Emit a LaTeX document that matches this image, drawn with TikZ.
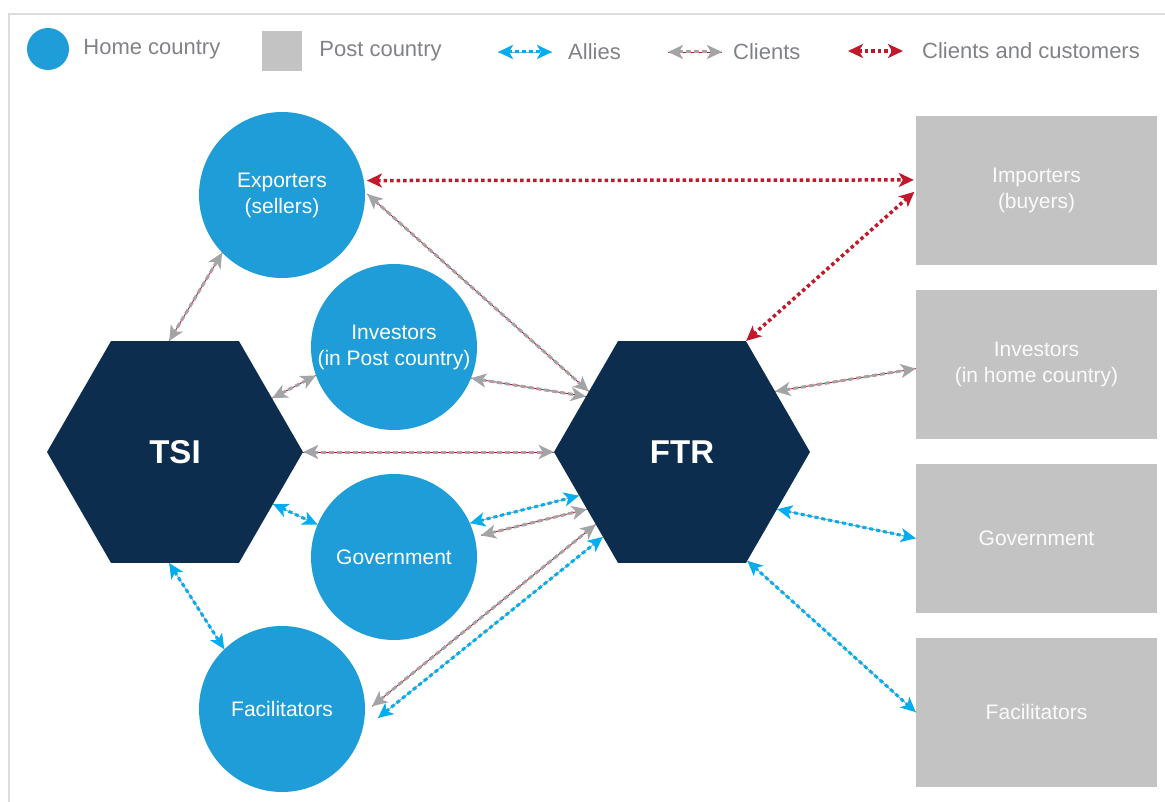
\documentclass[tikz,border=0pt]{standalone}
\usepackage{fontspec}
\setmainfont{Liberation Sans}
\usetikzlibrary{arrows.meta, shapes.geometric, positioning}
\definecolor{HomeBlue}{HTML}{1E9DD8}
\definecolor{PostGray}{HTML}{C2C3C2}
\definecolor{HexNavy}{HTML}{0C2D4E}
\definecolor{AllyBlue}{HTML}{00AEEF}
\definecolor{ClientGray}{HTML}{A3A4A6}
\definecolor{CustRed}{HTML}{C1182B}
\definecolor{LegendText}{HTML}{808285}
\definecolor{FrameGray}{HTML}{DCDDDE}

\begin{document}
\begin{tikzpicture}[x=1pt,y=-1pt,
    >={Stealth[length=15pt,width=14pt,inset=4pt]},
    home/.style={circle,fill=HomeBlue,text=white,minimum size=166pt,inner sep=0pt,align=center,font=\fontsize{21}{26}\selectfont},
    post/.style={rectangle,fill=PostGray,text=white!94!PostGray,minimum width=241pt,minimum height=149pt,inner sep=0pt,align=center,font=\fontsize{21}{26}\selectfont},
    hexa/.style={regular polygon,regular polygon sides=6,fill=HexNavy,text=white,minimum size=256pt,inner sep=0pt,font=\fontsize{33}{36}\selectfont\bfseries},
    legtext/.style={inner sep=0pt,text=LegendText,font=\fontsize{22}{26}\selectfont},
    client/.style={<->,draw=ClientGray,line width=3pt,dash pattern=on 5pt off 3pt,preaction={-,draw=CustRed,line width=0.9pt,solid}},
    ally/.style={<->,draw=AllyBlue,line width=3pt,dash pattern=on 4pt off 3pt,preaction={-,draw=ClientGray,line width=0.9pt,solid}},
    custom/.style={<->,draw=CustRed,line width=3.5pt,dash pattern=on 3.5pt off 3pt}]
    \useasboundingbox (0,0) rectangle (1165,802);
    \draw[FrameGray,line width=2.5pt] (9,802) -- (9,14) -- (1165,14);
    % legend
    \node[circle,fill=HomeBlue,minimum size=42pt,inner sep=0pt] (lhome) at (48,49) {};
    \node[legtext,right=14pt of lhome] (thome) {Home country};
    \node[fill=PostGray,minimum size=40pt,inner sep=0pt] (lpost) at (281.5,51) {};
    \node[legtext,right=17.5pt of lpost] (tpost) {Post country};
    \coordinate (lally1) at (498,52);
    \coordinate (lally2) at (552,52);
    \draw[ally] (lally1) -- (lally2);
    \node[legtext,right=16pt of lally2] (tally) {Allies};
    \coordinate (lclient1) at (668,52);
    \coordinate (lclient2) at (722,52);
    \draw[client] (lclient1) -- (lclient2);
    \node[legtext,right=11pt of lclient2] (tclient) {Clients};
    \coordinate (lcust1) at (848,51);
    \coordinate (lcust2) at (903,51);
    \draw[custom] (lcust1) -- (lcust2);
    \node[legtext,right=19pt of lcust2] (tcust) {Clients and customers};
    % hubs
    \node[hexa] (tsi) at (175,452) {TSI};
    \node[hexa] (ftr) at (682,452) {FTR};
    % home country
    \node[home] (exp) at (282,195) {Exporters\\(sellers)};
    \node[home] (inv) at (394,347) {Investors\\(in Post country)};
    \node[home] (gov) at (394,557) {Government};
    \node[home] (fac) at (282,709) {Facilitators};
    % post country
    \node[post] (imp) at (1036.5,190.5) {Importers\\(buyers)};
    \node[post,below=24.5pt of imp] (hinv) {Investors\\(in home country)};
    \node[post,below=24.5pt of hinv] (hgov) {Government};
    \node[post,below=24.5pt of hgov] (hfac) {Facilitators};
    % links
    \draw[client] (exp.224) -- (tsi.93);
    \draw[client] (inv.200) -- (tsi.29);
    \draw[client] (tsi.0) -- (ftr.180);
    \draw[client,shorten <=3pt] (exp.2) -- (ftr.147);
    \draw[client] (inv.338) -- (ftr.150);
    \draw[client,shorten <=6.5pt] (gov.14) -- (ftr.211);
    \draw[client,shorten <=9pt] (fac.358) -- (ftr.220);
    \draw[client] (ftr.33) -- (hinv.182);
    \draw[ally] (tsi.332) -- (gov.157);
    \draw[ally] (tsi.267) -- (fac.134);
    \draw[ally] (gov.24) -- (ftr.203);
    \draw[ally,shorten <=20pt] (fac.345) -- (ftr.227);
    \draw[ally] (ftr.329) -- (hgov.west);
    \draw[ally] (ftr.301) -- (hfac.west);
    \draw[custom,shorten <=3pt,shorten >=2pt] (exp.10) -- (imp.175);
    \draw[custom,shorten >=2pt] (ftr.60) -- (imp.west);
\end{tikzpicture}
\end{document}
